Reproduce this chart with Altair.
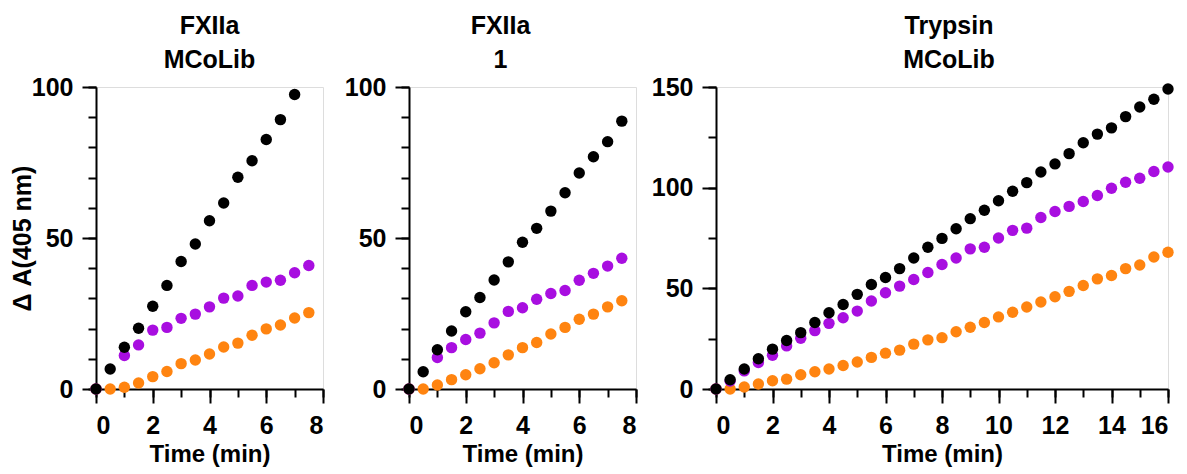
import altair as alt
import pandas as pd

FONT = "Liberation Sans"
BLACK = "#000000"
PURPLE = "#A80EE0"
ORANGE = "#FF8410"

# ---- FXIIa / MCoLib ----
a_black_t = [0, 0.5, 1, 1.5, 2, 2.5, 3, 3.5, 4, 4.5, 5, 5.5, 6, 6.5, 7]
a_black_v = [0, 6.6, 13.8, 20.1, 27.4, 34.3, 42.2, 48.0, 55.7, 61.6, 70.1, 75.6, 82.6, 89.2, 97.5]
a_purple_t = [0, 1, 1.5, 2, 2.5, 3, 3.5, 4, 4.5, 5, 5.5, 6, 6.5, 7, 7.5]
a_purple_v = [0, 11.1, 14.6, 19.5, 20.4, 23.4, 24.8, 27.2, 30.1, 30.8, 34.3, 35.4, 36.0, 38.5, 40.9]
a_orange_t = [0, 0.5, 1, 1.5, 2, 2.5, 3, 3.5, 4, 4.5, 5, 5.5, 6, 6.5, 7, 7.5]
a_orange_v = [0, 0, 0.6, 2.0, 4.1, 5.8, 8.4, 9.6, 11.6, 13.9, 15.2, 17.8, 19.9, 21.2, 23.5, 25.3]

# ---- FXIIa / 1 ----
b_black_t = [0, 0.5, 1, 1.5, 2, 2.5, 3, 3.5, 4, 4.5, 5, 5.5, 6, 6.5, 7, 7.5]
b_black_v = [0, 5.7, 13.0, 19.2, 25.6, 30.3, 36.1, 42.1, 48.6, 53.2, 58.9, 65.0, 71.5, 76.9, 81.9, 88.7]
b_purple_t = [0, 1, 1.5, 2, 2.5, 3, 3.5, 4, 4.5, 5, 5.5, 6, 6.5, 7, 7.5]
b_purple_v = [0, 10.4, 13.7, 16.4, 18.5, 21.9, 25.7, 26.9, 29.7, 31.6, 32.6, 36.0, 38.3, 40.7, 43.3]
b_orange_t = [0, 0.5, 1, 1.5, 2, 2.5, 3, 3.5, 4, 4.5, 5, 5.5, 6, 6.5, 7, 7.5]
b_orange_v = [0, 0, 1.3, 3.1, 4.7, 6.7, 8.7, 11.3, 13.7, 15.4, 18.2, 20.4, 23.1, 24.8, 27.2, 29.2]

# ---- Trypsin / MCoLib ----
c_t = [0, 0.5, 1, 1.5, 2, 2.5, 3, 3.5, 4, 4.5, 5, 5.5, 6, 6.5, 7, 7.5, 8,
       8.5, 9, 9.5, 10, 10.5, 11, 11.5, 12, 12.5, 13, 13.5, 14, 14.5, 15, 15.5, 16]
c_black_v = [0, 4.6, 9.9, 15.0, 19.8, 24.1, 28.0, 33.0, 37.9, 42.0, 47.0, 51.9, 55.4,
             59.8, 65.1, 70.4, 74.8, 79.6, 84.6, 88.8, 93.5, 98.2, 102.5, 107.8, 111.8,
             116.9, 122.3, 126.6, 129.7, 135.3, 140.1, 143.9, 149.0]
c_purple_v = [0, 4.0, 9.0, 13.2, 16.8, 21.4, 25.2, 29.0, 32.6, 35.4, 38.7, 43.7, 47.8,
              51.1, 54.4, 57.9, 61.8, 65.1, 69.6, 70.4, 75.0, 78.8, 79.9, 85.2, 88.2,
              90.7, 93.1, 96.1, 99.7, 102.7, 104.7, 108.0, 110.3]
c_orange_v = [0, 0, 1.0, 2.5, 4.1, 4.9, 7.1, 8.6, 9.9, 11.7, 13.4, 15.7, 17.8, 19.3,
              22.3, 24.4, 25.5, 28.4, 30.7, 33.0, 35.8, 38.1, 40.7, 43.2, 45.8, 48.5,
              51.4, 54.7, 56.4, 59.8, 61.6, 65.6, 67.9]

SERIES = ["orange", "purple", "black"]
COLORS = [ORANGE, PURPLE, BLACK]


def frame(orange, purple, black):
    rows = []
    for rank, (name, (ts, vs)) in enumerate(zip(SERIES, [orange, purple, black])):
        for t, v in zip(ts, vs):
            rows.append({"series": name, "t": t, "v": v, "rank": rank})
    return pd.DataFrame(rows)


AX = dict(
    domainColor="black", domainWidth=2, tickColor="black", tickWidth=2,
    labelFont=FONT, labelFontSize=25, labelFontWeight="bold", labelColor="black",
    titleFont=FONT, titleFontWeight="bold", titleColor="black", grid=False,
)


def panel(df, xmax, ymax, ystep, lines, dx, ytitle, width):
    xs = alt.Scale(domain=[0, xmax], nice=False)
    ys = alt.Scale(domain=[0, ymax], nice=False)
    x_major = alt.Axis(values=list(range(0, xmax + 1, 2)), tickSize=14, labelPadding=10,
                       title="Time (min)", titleFontSize=24, titlePadding=4,
                       orient="bottom", format="d", labelOverlap=False, **AX)
    x_minor = alt.Axis(values=list(range(0, xmax + 1)), tickSize=8, labels=False,
                       domain=False, title=None, orient="bottom", **AX)
    y_kw = dict(values=list(range(0, ymax + 1, 50)), tickSize=14, labelPadding=9,
                orient="left", format="d", labelOverlap=False, **AX)
    if ytitle:
        y_major = alt.Axis(title=ytitle, titleFontSize=25, titlePadding=-4, **y_kw)
    else:
        y_major = alt.Axis(title=None, **y_kw)
    y_minor = alt.Axis(values=list(range(0, ymax + 1, ystep)), tickSize=8, labels=False,
                       domain=False, title=None, orient="left", **AX)

    ticks = alt.Chart(df).mark_circle(opacity=0).encode(
        x=alt.X("t:Q", scale=xs, axis=x_minor),
        y=alt.Y("v:Q", scale=ys, axis=y_minor),
    )
    pts = alt.Chart(df).mark_circle(size=130, opacity=1).encode(
        x=alt.X("t:Q", scale=xs, axis=x_major),
        y=alt.Y("v:Q", scale=ys, axis=y_major),
        color=alt.Color("series:N", scale=alt.Scale(domain=SERIES, range=COLORS), legend=None),
        order=alt.Order("rank:Q"),
    )
    return alt.layer(ticks, pts).resolve_axis(x="independent", y="independent").properties(
        width=width, height=302,
        title=alt.TitleParams(lines, anchor="middle", dx=dx, offset=2, font=FONT,
                              fontSize=25, fontWeight="bold", color="black", lineHeight=34),
    )


p1 = panel(frame((a_orange_t, a_orange_v), (a_purple_t, a_purple_v), (a_black_t, a_black_v)),
           8, 100, 10, ["FXIIa", "MCoLib"], 0, "Δ A(405 nm)", 227)
p2 = panel(frame((b_orange_t, b_orange_v), (b_purple_t, b_purple_v), (b_black_t, b_black_v)),
           8, 100, 10, ["FXIIa", "1"], -22, None, 227)
p3 = panel(frame((c_t, c_orange_v), (c_t, c_purple_v), (c_t, c_black_v)),
           16, 150, 25, ["Trypsin", "MCoLib"], 7, None, 452)

chart = alt.hconcat(alt.hconcat(p1, p2, spacing=18), p3, spacing=12).properties(
    padding={"left": 9, "top": 13, "right": 0, "bottom": 0},
).configure(background="white")

chart.save("out.html", embed_options={"renderer": "svg", "actions": False})
